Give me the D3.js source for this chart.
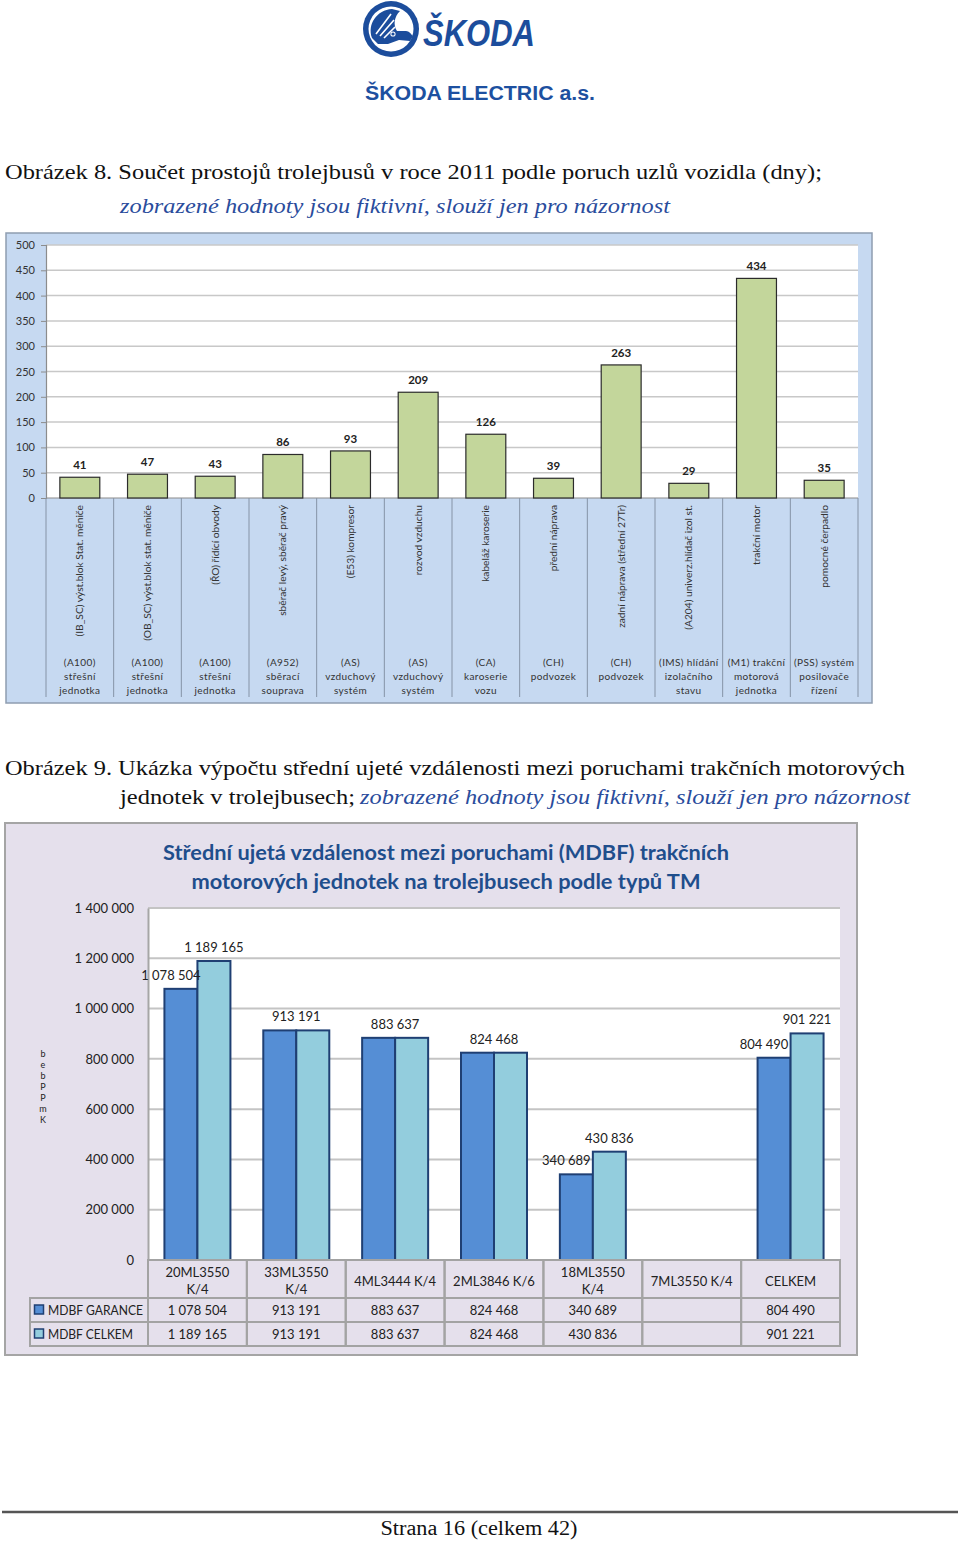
<!DOCTYPE html>
<html><head><meta charset="utf-8">
<script src="https://cdn.jsdelivr.net/npm/d3@7"></script>
<style>body{margin:0;background:#fff;} svg{display:block}</style>
</head><body>
<svg id="page" width="960" height="1541"></svg>
<script>
// ---------- Chart 1 data ----------
const c1Parts = [
  "(IB_SC) výst.blok Stat. měniče",
  "(OB_SC) výst.blok stat. měniče",
  "(ŘO) řídící obvody",
  "sběrač levý, sběrač pravý",
  "(E53) kompresor",
  "rozvod vzduchu",
  "kabeláž karoserie",
  "přední náprava",
  "zadní náprava (střední 27Tr)",
  "(A204) univerz.hlídač izol st.",
  "trakční motor",
  "pomocné čerpadlo"
];
const c1Groups = [
  ["(A100)","střešní","jednotka"],
  ["(A100)","střešní","jednotka"],
  ["(A100)","střešní","jednotka"],
  ["(A952)","sběrací","souprava"],
  ["(AS)","vzduchový","systém"],
  ["(AS)","vzduchový","systém"],
  ["(CA)","karoserie","vozu"],
  ["(CH)","podvozek"],
  ["(CH)","podvozek"],
  ["(IMS) hlídání","izolačního","stavu"],
  ["(M1) trakční","motorová","jednotka"],
  ["(PSS) systém","posilovače","řízení"]
];
const c1Values = [41, 47, 43, 86, 93, 209, 126, 39, 263, 29, 434, 35];
const c1Ticks = [0, 50, 100, 150, 200, 250, 300, 350, 400, 450, 500];

// ---------- Chart 2 data ----------
const c2Title = ["Střední ujetá vzdálenost mezi poruchami (MDBF) trakčních",
                 "motorových jednotek na trolejbusech podle typů TM"];
const c2Categories = [["20ML3550","K/4"],["33ML3550","K/4"],["4ML3444 K/4"],["2ML3846 K/6"],["18ML3550","K/4"],["7ML3550 K/4"],["CELKEM"]];
const c2Series = ["MDBF GARANCE", "MDBF CELKEM"];
const c2Garance = [1078504, 913191, 883637, 824468, 340689, null, 804490];
const c2Celkem  = [1189165, 913191, 883637, 824468, 430836, null, 901221];
const c2Ticks = [0, 200000, 400000, 600000, 800000, 1000000, 1200000, 1400000];
const c2AxisGlyphs = ["b","e","b","P","P","m","K"];

const svg = d3.select("#page");
const serif = "'Liberation Serif','Times New Roman',serif";
const sans = "Lato, 'Open Sans', sans-serif";

// ---------- Header / logo ----------
const blue = "#1c4d9c";
const logo = svg.append("g");
logo.append("circle").attr("cx",391).attr("cy",29).attr("r",28).attr("fill",blue);
logo.append("circle").attr("cx",391).attr("cy",29).attr("r",22.5).attr("fill","#fff");
logo.append("path").attr("fill",blue)
  .attr("d","M372,38 C367,24 377,10 392,9 L400,11 C394,17 393,25 397,31 L406,31 C409,31 411,34 413,36 L410,41 L399,40 L388,44 L378,44 Z");
logo.append("path").attr("fill","none").attr("stroke","#fff").attr("stroke-width",1.6)
  .attr("d","M376,34 L391,14 M380,36 L394,20 M384,38 L395,27");
logo.append("circle").attr("cx",393).attr("cy",34).attr("r",2.6).attr("fill","#fff");
logo.append("circle").attr("cx",393).attr("cy",34).attr("r",1.6).attr("fill",blue);
svg.append("text").attr("x",423).attr("y",46).attr("font-family","'Liberation Sans',Arial,sans-serif")
  .attr("font-weight","bold").attr("font-style","italic").attr("font-size",36).attr("fill",blue)
  .attr("textLength",112).attr("lengthAdjust","spacingAndGlyphs").text("ŠKODA");
svg.append("text").attr("x",480).attr("y",100).attr("text-anchor","middle")
  .attr("font-family","'Liberation Sans',Arial,sans-serif").attr("font-weight","bold").attr("font-size",20)
  .attr("fill","#1d50a0").attr("textLength",230).attr("lengthAdjust","spacingAndGlyphs").text("ŠKODA ELECTRIC a.s.");

function caption(x, y, len, txt, italic) {
  svg.append("text").attr("x",x).attr("y",y).attr("font-family",serif).attr("font-size",21)
    .attr("font-style", italic ? "italic" : "normal").attr("fill", italic ? "#2a4c9c" : "#111")
    .attr("textLength",len).attr("lengthAdjust","spacingAndGlyphs").text(txt);
}
caption(5, 179, 817, "Obrázek 8. Součet prostojů trolejbusů v roce 2011 podle poruch uzlů vozidla (dny);", false);
caption(120, 213, 550, "zobrazené hodnoty jsou fiktivní, slouží jen pro názornost", true);
caption(5, 775, 900, "Obrázek 9. Ukázka výpočtu střední ujeté vzdálenosti mezi poruchami trakčních motorových", false);
caption(120, 804, 235, "jednotek v trolejbusech;", false);
caption(360, 804, 550, "zobrazené hodnoty jsou fiktivní, slouží jen pro názornost", true);

// ---------- Chart 1 ----------
const c1 = svg.append("g");
c1.append("rect").attr("x",6).attr("y",233).attr("width",866).attr("height",470)
  .attr("fill","#c6d9f1").attr("stroke","#8f9db0").attr("stroke-width",1.5);
const x1Full = d3.scaleBand().domain(d3.range(c1Values.length)).range([46,858]).padding(0);
const x1 = d3.scaleBand().domain(d3.range(c1Values.length)).range([46,858]).paddingInner(0.41).paddingOuter(0.205);
const y1 = d3.scaleLinear().domain([0,500]).range([498,245]);
c1.append("rect").attr("x",46).attr("y",245).attr("width",812).attr("height",253).attr("fill","#fff");
c1.selectAll("line.grid").data(c1Ticks.filter(t=>t>0)).join("line")
  .attr("x1",46).attr("x2",858).attr("y1",d=>y1(d)).attr("y2",d=>y1(d))
  .attr("stroke","#c8c8c8").attr("stroke-width",1.5);
const ax1 = c1.append("g").attr("transform","translate(46,0)")
  .call(d3.axisLeft(y1).tickValues(c1Ticks).tickSize(5).tickPadding(6));
ax1.select(".domain").attr("stroke","#8c8c8c").attr("stroke-width",1.2);
ax1.selectAll(".tick line").attr("stroke","#8c8c8c");
ax1.selectAll("text").attr("font-family",sans).attr("font-size",11).attr("fill","#333");
c1.append("line").attr("x1",46).attr("x2",858).attr("y1",498).attr("y2",498).attr("stroke","#8c8c8c").attr("stroke-width",1.2);
const bounds = d3.range(c1Values.length+1).map(i => i < c1Values.length ? x1Full(i) : x1Full.range()[1]);
c1.selectAll("line.sep").data(bounds).join("line")
  .attr("x1",d=>d).attr("x2",d=>d).attr("y1",498).attr("y2",697)
  .attr("stroke","#8593a6").attr("stroke-width",1);
c1.selectAll("rect.bar").data(c1Values).join("rect")
  .attr("x",(d,i)=>x1(i)).attr("width",x1.bandwidth())
  .attr("y",d=>y1(d)).attr("height",d=>y1(0)-y1(d))
  .attr("fill","#c3d69b").attr("stroke","#2b2b2b").attr("stroke-width",1.2);
c1.selectAll("text.val").data(c1Values).join("text")
  .attr("x",(d,i)=>x1(i)+x1.bandwidth()/2).attr("y",d=>y1(d)-8)
  .attr("text-anchor","middle").attr("font-family",sans).attr("font-weight","bold")
  .attr("font-size",11.5).attr("fill","#222").text(d=>d);
c1.selectAll("text.part").data(c1Parts).join("text")
  .attr("transform",(d,i)=>`translate(${x1Full(i)+x1Full.bandwidth()/2},505) rotate(-90)`)
  .attr("text-anchor","end").attr("dy","0.35em")
  .attr("font-family",sans).attr("font-size",10.2).attr("fill","#333").text(d=>d);
c1Groups.forEach((lines,i) => {
  const t = c1.append("text").attr("text-anchor","middle").attr("font-family",sans)
    .attr("font-size",10).attr("letter-spacing",0.4).attr("fill","#333");
  lines.forEach((ln,k) => t.append("tspan").attr("x",x1Full(i)+x1Full.bandwidth()/2).attr("y",666+k*14).text(ln));
});

// ---------- Chart 2 ----------
const c2 = svg.append("g");
c2.append("rect").attr("x",5).attr("y",823).attr("width",852).attr("height",532)
  .attr("fill","#e5e0ec").attr("stroke","#a5a5a5").attr("stroke-width",2);
c2Title.forEach((ln,k)=>{
  c2.append("text").attr("x",446).attr("y",860+k*29).attr("text-anchor","middle")
    .attr("font-family",sans).attr("font-weight","bold").attr("font-size",20).attr("fill","#1f4e8c")
    .attr("textLength",k===0?566:509).attr("lengthAdjust","spacingAndGlyphs").text(ln);
});
const y2 = d3.scaleLinear().domain([0,1400000]).range([1260,908]);
const x2 = d3.scaleBand().domain(d3.range(c2Categories.length)).range([148,840]).padding(0);
const barW = 33;
const x2s = d3.scaleBand().domain(c2Series).range([(x2.bandwidth()-2*barW)/2,(x2.bandwidth()+2*barW)/2]).padding(0);
const fmt = d3.formatLocale({decimal:",",thousands:" ",grouping:[3],currency:["",""]}).format(",d");

c2.append("rect").attr("x",148).attr("y",908).attr("width",692).attr("height",352).attr("fill","#fff");
c2.selectAll("line.grid").data(c2Ticks.filter(t=>t>0)).join("line")
  .attr("x1",148).attr("x2",840).attr("y1",d=>y2(d)).attr("y2",d=>y2(d))
  .attr("stroke","#c4c4c4").attr("stroke-width",2);
const ax2 = c2.append("g").attr("transform","translate(148,0)")
  .call(d3.axisLeft(y2).tickValues(c2Ticks).tickSize(0).tickPadding(14).tickFormat(fmt));
ax2.select(".domain").attr("stroke","#a6a6a6").attr("stroke-width",2);
ax2.selectAll("text").attr("font-family",sans).attr("font-size",13).attr("fill","#222");

// stacked axis title glyphs
const ag = c2.append("text").attr("text-anchor","middle").attr("font-family",sans).attr("font-size",9).attr("fill","#222");
c2AxisGlyphs.forEach((g,k)=> ag.append("tspan").attr("x",43).attr("y",1057+k*11).text(g));

const seriesData = [c2Garance, c2Celkem];
const fills = ["#558ed5", "#93cddd"];
seriesData.forEach((vals, s) => {
  c2.selectAll("rect.s"+s).data(vals.map((v,i)=>({v,i})).filter(d=>d.v!=null)).join("rect")
    .attr("x",d=>x2(d.i)+x2s(c2Series[s])).attr("width",x2s.bandwidth())
    .attr("y",d=>y2(d.v)).attr("height",d=>y2(0)-y2(d.v))
    .attr("fill",fills[s]).attr("stroke","#1f3f73").attr("stroke-width",2);
});
const labels = [];
c2Categories.forEach((c,i)=>{
  const g = c2Garance[i], ce = c2Celkem[i];
  if (g == null) return;
  const mid = x2(i)+x2.bandwidth()/2;
  if (g === ce) {
    labels.push({x: mid, v: g});
  } else {
    labels.push({x: x2(i)+x2s(c2Series[0])+barW/2-10, v: g});
    labels.push({x: x2(i)+x2s(c2Series[1])+barW/2, v: ce});
  }
});
c2.selectAll("text.dl").data(labels).join("text")
  .attr("x",d=>d.x).attr("y",d=>y2(d.v)-9).attr("text-anchor","middle")
  .attr("font-family",sans).attr("font-size",13).attr("fill","#222").text(d=>fmt(d.v));

// data table
const tStroke = "#a3a3a3";
c2Categories.forEach((lines,i)=>{
  c2.append("rect").attr("x",x2(i)).attr("y",1260).attr("width",x2.bandwidth()).attr("height",38)
    .attr("fill","none").attr("stroke",tStroke).attr("stroke-width",2);
  const t = c2.append("text").attr("text-anchor","middle").attr("font-family",sans).attr("font-size",13).attr("fill","#222");
  const cx = x2(i)+x2.bandwidth()/2;
  if (lines.length === 2) {
    t.append("tspan").attr("x",cx).attr("y",1276.5).text(lines[0]);
    t.append("tspan").attr("x",cx).attr("y",1293.5).text(lines[1]);
  } else {
    t.append("tspan").attr("x",cx).attr("y",1285.5).text(lines[0]);
  }
});
seriesData.forEach((vals,s)=>{
  const ry = 1298 + s*24;
  c2.append("rect").attr("x",30).attr("y",ry).attr("width",118).attr("height",24)
    .attr("fill","none").attr("stroke",tStroke).attr("stroke-width",2);
  c2.append("rect").attr("x",34.5).attr("y",ry+7).attr("width",9).attr("height",9)
    .attr("fill",fills[s]).attr("stroke","#1f3f73").attr("stroke-width",1.5);
  c2.append("text").attr("x",48).attr("y",ry+16.5).attr("font-family",sans).attr("font-size",13)
    .attr("fill","#222").attr("textLength",s===0?95:85).attr("lengthAdjust","spacingAndGlyphs").text(c2Series[s]);
  vals.forEach((v,i)=>{
    c2.append("rect").attr("x",x2(i)).attr("y",ry).attr("width",x2.bandwidth()).attr("height",24)
      .attr("fill","none").attr("stroke",tStroke).attr("stroke-width",2);
    if (v != null) c2.append("text").attr("x",x2(i)+x2.bandwidth()/2).attr("y",ry+16.5)
      .attr("text-anchor","middle").attr("font-family",sans).attr("font-size",13).attr("fill","#222").text(fmt(v));
  });
});

// ---------- Footer ----------
svg.append("line").attr("x1",2).attr("x2",958).attr("y1",1512).attr("y2",1512).attr("stroke","#555").attr("stroke-width",2.5);
svg.append("text").attr("x",479).attr("y",1535).attr("text-anchor","middle").attr("font-family",serif)
  .attr("font-size",20).attr("fill","#111").attr("textLength",197).attr("lengthAdjust","spacingAndGlyphs")
  .text("Strana 16 (celkem 42)");
</script>
</body></html>
